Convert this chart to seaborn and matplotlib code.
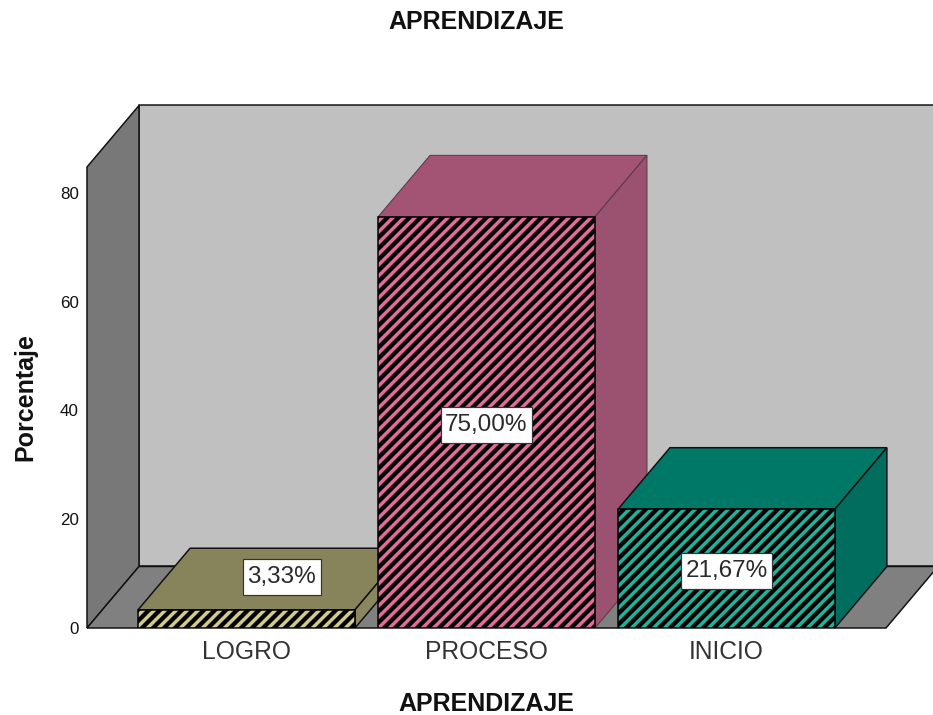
import matplotlib
matplotlib.use('Agg')
import matplotlib.pyplot as plt
from matplotlib.path import Path
from matplotlib.transforms import ScaledTranslation
import pandas as pd
import seaborn as sns

categorias = ['LOGRO', 'PROCESO', 'INICIO']
porcentajes = [3.33, 75.00, 21.67]
etiquetas = ['3,33%', '75,00%', '21,67%']
ticks_y = [0, 20, 40, 60, 80]

color_franja = ['#d2cc8c', '#e56a9e', '#1fb39b']
color_tapa = ['#87845c', '#a35374', '#007868']
color_lado = ['#8a8760', '#9b5170', '#006d5e']

DPI = 66
def pt(px):
    return px * 72.0 / DPI

# caja de las etiquetas: mas alta que el texto, en pixeles
def caja(x0, y0, w, h, mutation_size):
    px, py = 4.5, 7.0
    x, y = x0 - px, y0 - py
    w, h = w + 2 * px, h + 2 * py
    return Path([(x, y), (x + w, y), (x + w, y + h), (x, y + h), (x, y)], closed=True)

sns.set_theme(style='white')
plt.rcParams['font.family'] = ['Liberation Sans', 'DejaVu Sans']
plt.rcParams['hatch.linewidth'] = pt(4.3)

df = pd.DataFrame({'cat': categorias, 'pct': porcentajes})

fig = plt.figure(figsize=(933 / DPI, 715 / DPI), dpi=DPI, facecolor='white')
ax = fig.add_axes([87 / 933, 87 / 715, 799 / 933, 461 / 715])
ax.patch.set_visible(False)

sns.barplot(data=df, x='cat', y='pct', ax=ax, width=0.904, color='white',
            edgecolor='black', linewidth=pt(1.5), errorbar=None)
barras = list(ax.containers[0])

ax.set_xlim(-0.665, 2.665)
ax.set_ylim(0, 84.1)

# profundidad del falso 3D, en unidades de datos
dx = 52 / 240.0
dy = 61.5 / 5.48
x0, x1 = ax.get_xlim()
y0, y1 = ax.get_ylim()
lw = pt(1.5)

# paredes y suelo
ax.fill([x0 + dx, x1 + dx * 2, x1 + dx * 2, x0 + dx], [y0 + dy, y0 + dy, y1 + dy, y1 + dy],
        fc='#c0c0c0', ec='#111111', lw=lw, clip_on=False, zorder=0.5)
ax.fill([x0, x0 + dx, x0 + dx, x0], [y0, y0 + dy, y1 + dy, y1],
        fc='#787878', ec='#111111', lw=lw, clip_on=False, zorder=0.6)
ax.fill([x0, x0 + dx, x1 + dx, x1], [y0, y0 + dy, y0 + dy, y0],
        fc='#808080', ec='#111111', lw=lw, clip_on=False, zorder=0.7)

for i, bar in enumerate(barras):
    x = bar.get_x()
    w = bar.get_width()
    h = bar.get_height()
    z = 2 + i * 2
    borde = '#5a3a48' if i == 1 else '#111111'
    bar.set_facecolor(color_franja[i])
    bar.set_hatch('//')
    bar.set_zorder(z + 1)
    ax.fill([x, x + dx, x + w + dx, x + w], [h, h + dy, h + dy, h],
            fc=color_tapa[i], ec=borde, lw=lw * 0.7 if i == 1 else lw, clip_on=False, zorder=z)
    ax.fill([x + w, x + w + dx, x + w + dx, x + w], [0, dy, h + dy, h],
            fc=color_lado[i], ec=borde, lw=lw * 0.7 if i == 1 else lw, clip_on=False, zorder=z)

# etiquetas de valor
pos_x = [0.147, 1.0, 2.0]
pos_y = [9.3, 37.1, 10.4]
for i, txt in enumerate(etiquetas):
    ax.text(pos_x[i], pos_y[i], txt, ha='center', va='center', fontsize=pt(24.3), color='#2a2a2a',
            zorder=20, bbox=dict(boxstyle=caja, fc='white', ec='#333333', lw=pt(1.2)))

sns.despine(ax=ax, left=True, bottom=True)
ax.set_yticks(ticks_y)
ax.tick_params(axis='y', length=0, pad=pt(8), labelsize=pt(17), labelcolor='#111111')
ax.tick_params(axis='x', length=0, pad=pt(12), labelsize=pt(24.6), labelcolor='#333333')
# en el original los numeros del eje van un poco por debajo de su valor
for i, lab in enumerate(ax.get_yticklabels()):
    lab.set_transform(lab.get_transform() + ScaledTranslation(0, -i * 0.85 / DPI, fig.dpi_scale_trans))
ax.set_xlabel('APRENDIZAJE', fontsize=pt(25), fontweight='bold', color='#111111', labelpad=pt(28))
ax.set_ylabel('Porcentaje', fontsize=pt(25), fontweight='bold', color='#111111', labelpad=pt(23))
fig.suptitle('APRENDIZAJE', x=476 / 933, y=1 - 22 / 715, va='center', fontsize=pt(25),
             fontweight='bold', color='#111111')

fig.savefig('out.png', dpi=DPI)
